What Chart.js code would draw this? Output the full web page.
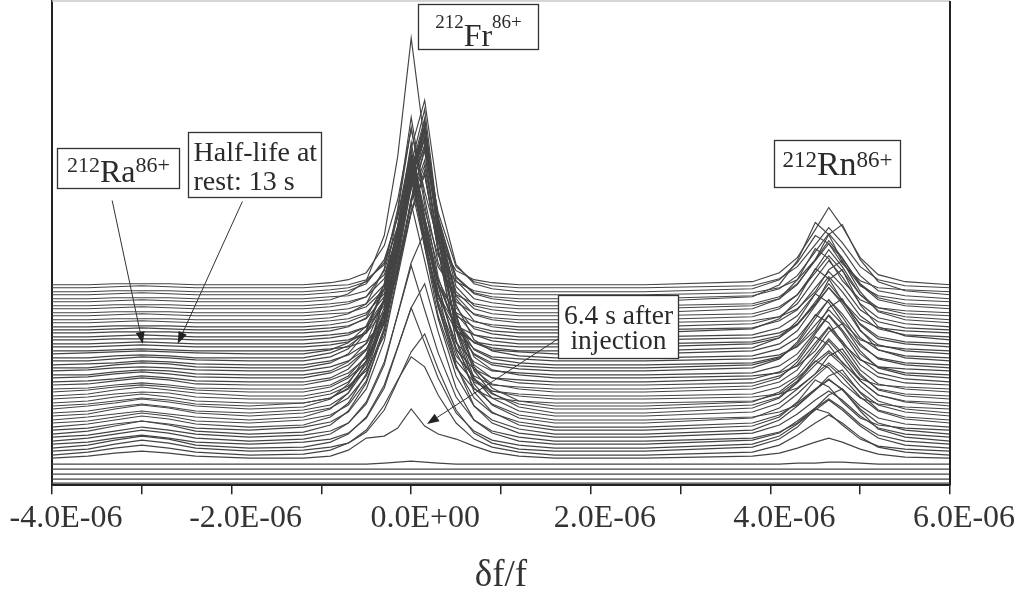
<!DOCTYPE html>
<html>
<head>
<meta charset="utf-8">
<script src="https://cdn.jsdelivr.net/npm/chart.js@4.4.1/dist/chart.umd.min.js"></script>
<style>
  html, body { margin: 0; padding: 0; background: #fff; }
  #wrap { width: 1021px; height: 598px; }
</style>
</head>
<body>
<div id="wrap"><canvas id="spec" width="1021" height="598"></canvas></div>
<script>
// ── Data: stacked Schottky spectra (row 0 = bottom, earliest) ──
// x in units of 1E-06 (δf/f), y in arbitrary units
const xGrid = [-4.0, -3.6, -3.3, -3.0, -2.7, -2.4, -1.8,
  -1.2, -0.9, -0.7, -0.5, -0.3, -0.15, 0, 0.15, 0.3, 0.5, 0.7, 0.9, 1.2, 1.6,
  2.6, 3.8, 4.1, 4.3, 4.5, 4.65, 4.8, 5.0, 5.2, 5.5, 6.0];
const tickLabels = ['-4.0E-06', '-2.0E-06', '0.0E+00', '2.0E-06', '4.0E-06', '6.0E-06'];

// vertical offset of each spectrum
const baselines = [2, 6, 11, 16, 21,
  27, 30, 34, 37, 41, 44, 48, 51, 55, 58, 62, 65, 69, 72, 76, 79, 82, 86, 89, 93,
  96, 100, 103, 107, 110, 114, 117, 120, 124, 127, 131, 134, 138, 141, 145, 148,
  152, 155, 158, 162, 165, 169, 172, 176, 179, 183, 186, 190, 193, 197, 200];

// 212Ra bump at -3.6 .. -2.4
const raRows = [
  [0,0,0,0,0],[0,0,0,0,0],[0,0,0,0,0],[0,0,0,0,0],[0,0,0,0,0],
  [2,5,7,5,2],[3,7,10,7,3],[2,7,11,8,3],[3,8,12,9,3],[2,6,9,6,2],
  [3,7,11,8,3],[2,6,10,7,3],[3,8,13,9,3],[2,6,9,6,2],[3,7,11,8,3],
  [2,6,10,7,2],[3,6,9,6,3],[2,7,11,8,3],[2,6,9,6,2],[3,6,10,7,3],
  [2,5,8,6,2],[2,6,9,6,2],[2,5,7,6,2],[2,6,9,6,3],[2,5,7,5,2],
  [1,4,6,4,1],[1,4,7,5,1],[1,3,6,4,1],[1,4,6,4,1],[0,3,5,4,1],
  [1,3,4,3,1],[0,3,5,4,1],[1,2,4,3,1],[0,2,4,3,1],[0,2,3,2,0],
  [1,2,3,2,1],[0,1,2,1,0],[0,1,2,1,0],[0,1,2,1,0],[0,1,1,1,0],
  [0,1,2,1,0],[0,1,1,1,0],[0,1,2,1,0],[0,1,1,1,0],[0,1,2,1,0],
  [0,1,1,1,0],[0,1,2,1,0],[0,1,1,1,0],[0,1,2,1,0],[0,1,1,1,0],
  [0,1,2,1,0],[0,1,1,1,0],[0,1,2,1,0],[0,1,1,1,0],[0,1,2,1,0],
  [0,1,1,1,0]
];

// 212Fr peak at -1.2 .. 1.6
const frRows = [
  [0,0,0,0,0,0,0,0,0,0,0,0,0,0],
  [0,0,0,0,0,0,0,0,0,0,0,0,0,0],
  [0,0,0,0,0,0,0,0,0,0,0,0,0,0],
  [0,0,0,0,0,0,0,0,0,0,0,0,0,0],
  [0,0,0,0,1,2,3,2,1,0,0,0,0,0],
  [0, 2, 8, 20, 22, 30, 49, 32, 24, 19, 12, 6, 2, 0],
  [1, 5, 12, 25, 50, 75, 98, 88, 60, 32, 16, 8, 3, 0],
  [1, 4, 8, 19, 41, 70, 99, 117, 82, 41, 18, 8, 2, 0],
  [1, 6, 14, 31, 63, 101, 140, 105, 70, 35, 17, 8, 3, 0],
  [2, 5, 11, 26, 56, 96, 136, 160, 112, 56, 24, 11, 3, 0],
  [2, 7, 18, 39, 79, 126, 175, 131, 88, 44, 21, 10, 4, 0],
  [2, 6, 14, 33, 72, 123, 174, 205, 144, 72, 31, 14, 4, 0],
  [2, 9, 23, 51, 104, 166, 230, 173, 115, 58, 28, 14, 5, 0],
  [3, 8, 18, 41, 89, 153, 217, 255, 179, 89, 38, 18, 5, 0],
  [2, 10, 24, 53, 108, 173, 240, 180, 120, 60, 29, 14, 5, 0],
  [3, 8, 18, 42, 92, 157, 223, 262, 183, 92, 39, 18, 5, 0],
  [3, 11, 27, 59, 122, 194, 270, 203, 135, 68, 32, 16, 5, 0],
  [3, 8, 18, 40, 88, 150, 213, 250, 175, 88, 38, 18, 5, 0],
  [3, 8, 20, 45, 98, 168, 238, 280, 196, 98, 42, 20, 6, 0],
  [2, 10, 25, 54, 110, 176, 245, 184, 123, 61, 29, 15, 5, 0],
  [3, 8, 18, 42, 91, 156, 221, 260, 182, 91, 39, 18, 5, 0],
  [0, 5, 14, 35, 81, 150, 230, 156, 87, 35, 14, 5, 2, 0],
  [0, 5, 13, 28, 63, 125, 200, 250, 150, 58, 20, 8, 3, 0],
  [0, 5, 14, 35, 82, 153, 235, 160, 89, 35, 14, 5, 2, 0],
  [0, 5, 14, 30, 68, 135, 216, 270, 162, 62, 22, 8, 3, 0],
  [0, 4, 13, 33, 77, 143, 220, 150, 84, 33, 13, 4, 2, 0],
  [0, 5, 12, 27, 62, 123, 197, 246, 148, 57, 20, 7, 2, 0],
  [0, 4, 13, 32, 74, 137, 210, 143, 80, 32, 13, 4, 2, 0],
  [0, 5, 13, 28, 65, 130, 207, 259, 155, 60, 21, 8, 3, 0],
  [0, 4, 13, 32, 75, 140, 215, 146, 82, 32, 13, 4, 2, 0],
  [0, 4, 10, 22, 50, 100, 160, 200, 120, 46, 16, 6, 2, 0],
  [0, 5, 14, 36, 84, 156, 240, 163, 91, 36, 14, 5, 2, 0],
  [0, 4, 10, 21, 48, 95, 152, 190, 114, 44, 15, 6, 2, 0],
  [0, 4, 12, 31, 72, 133, 205, 139, 78, 31, 12, 4, 2, 0],
  [0, 5, 12, 25, 58, 115, 184, 230, 138, 53, 18, 7, 2, 0],
  [0, 4, 11, 28, 65, 120, 185, 126, 70, 28, 11, 4, 2, 0],
  [0, 2, 4, 10, 30, 80, 150, 200, 100, 28, 8, 3, 0, 0],
  [0, 2, 5, 14, 44, 96, 175, 105, 49, 16, 5, 2, 0, 0],
  [0, 2, 4, 11, 32, 86, 161, 215, 108, 30, 9, 3, 0, 0],
  [0, 2, 5, 13, 40, 88, 160, 96, 45, 14, 5, 2, 0, 0],
  [0, 2, 4, 10, 31, 82, 154, 205, 103, 29, 8, 3, 0, 0],
  [0, 2, 6, 15, 48, 105, 190, 114, 53, 17, 6, 2, 0, 0],
  [0, 2, 4, 11, 33, 88, 165, 220, 110, 31, 9, 3, 0, 0],
  [0, 2, 5, 12, 38, 83, 150, 90, 42, 14, 5, 2, 0, 0],
  [0, 2, 4, 10, 29, 78, 147, 196, 98, 27, 8, 3, 0, 0],
  [0, 2, 6, 16, 51, 111, 202, 121, 57, 18, 6, 2, 0, 0],
  [0, 2, 3, 9, 26, 68, 128, 170, 85, 24, 7, 2, 0, 0],
  [0, 2, 4, 9, 28, 74, 139, 185, 93, 26, 7, 3, 0, 0],
  [0, 2, 5, 12, 38, 83, 150, 90, 42, 14, 5, 2, 0, 0],
  [0, 2, 4, 9, 27, 71, 134, 178, 89, 25, 7, 3, 0, 0],
  [0, 2, 8, 21, 66, 145, 263, 158, 74, 24, 8, 3, 0, 0],
  [0, 2, 3, 8, 24, 64, 120, 160, 80, 22, 6, 2, 0, 0],
  [0, 2, 4, 11, 35, 77, 140, 84, 39, 13, 4, 1, 0, 0],
  [0, 2, 4, 10, 29, 76, 143, 191, 96, 27, 8, 3, 0, 0],
  [0, 2, 3, 8, 23, 60, 113, 150, 75, 21, 6, 2, 0, 0],
  [0, 2, 5, 12, 39, 85, 155, 93, 43, 14, 5, 2, 0, 0]
];

// 212Rn peak at 3.8 .. 5.5
const rnRows = [
  [0,0,0,0,0,0,0,0,0],[0,0,0,0,0,0,0,0,0],[0,0,0,0,0,0,0,0,0],[0,0,0,0,0,0,0,0,0],
  [0,0,1,1,2,2,1,0,0],
  [2, 5, 10, 16, 20, 16, 9, 4, 1],
  [3, 10, 20, 32, 40, 32, 18, 8, 3],
  [4, 12, 24, 42, 38, 26, 12, 5, 2],
  [4, 12, 24, 38, 48, 38, 22, 10, 3],
  [4, 11, 23, 36, 45, 36, 20, 9, 3],
  [3, 9, 18, 33, 46, 52, 30, 12, 4],
  [4, 12, 23, 37, 46, 37, 21, 9, 3],
  [4, 14, 28, 44, 55, 44, 25, 11, 4],
  [4, 13, 28, 50, 43, 28, 12, 5, 2],
  [4, 12, 24, 38, 47, 38, 21, 9, 3],
  [5, 15, 29, 46, 58, 46, 26, 12, 4],
  [3, 8, 15, 30, 44, 50, 27, 10, 3],
  [4, 13, 27, 42, 53, 42, 24, 11, 4],
  [5, 15, 30, 48, 60, 48, 27, 12, 4],
  [4, 12, 27, 48, 41, 26, 11, 5, 2],
  [4, 14, 28, 44, 55, 44, 25, 11, 4],
  [2, 9, 22, 45, 62, 47, 22, 8, 2],
  [2, 5, 11, 25, 43, 50, 25, 9, 3],
  [2, 9, 20, 41, 57, 43, 20, 7, 2],
  [3, 10, 22, 46, 64, 48, 22, 8, 3],
  [3, 11, 27, 52, 44, 26, 10, 4, 2],
  [2, 9, 20, 42, 58, 44, 20, 8, 2],
  [3, 10, 23, 48, 66, 50, 23, 9, 3],
  [2, 5, 12, 27, 46, 54, 27, 10, 3],
  [2, 9, 21, 43, 60, 45, 21, 8, 2],
  [3, 12, 29, 56, 48, 28, 11, 4, 2],
  [3, 10, 24, 49, 68, 51, 24, 9, 3],
  [2, 8, 19, 40, 55, 41, 19, 7, 2],
  [2, 6, 14, 31, 53, 62, 31, 11, 3],
  [2, 9, 20, 42, 58, 44, 20, 8, 2],
  [3, 10, 23, 48, 66, 50, 23, 9, 3],
  [3, 13, 30, 57, 48, 29, 11, 5, 2],
  [3, 9, 22, 45, 63, 47, 22, 8, 3],
  [2, 8, 20, 40, 56, 42, 20, 7, 2],
  [2, 7, 15, 35, 60, 70, 35, 13, 4],
  [2, 9, 21, 43, 60, 45, 21, 8, 2],
  [4, 14, 33, 64, 54, 32, 13, 5, 2],
  [2, 9, 20, 42, 58, 44, 20, 8, 2],
  [3, 10, 23, 48, 66, 50, 23, 9, 3],
  [2, 6, 14, 31, 53, 62, 31, 11, 3],
  [3, 11, 25, 50, 70, 53, 25, 9, 3],
  [2, 9, 21, 43, 60, 45, 21, 8, 2],
  [4, 14, 33, 64, 54, 32, 13, 5, 2],
  [3, 10, 24, 49, 68, 51, 24, 9, 3],
  [2, 9, 22, 45, 62, 47, 22, 8, 2],
  [5, 17, 41, 79, 67, 40, 16, 6, 2],
  [3, 10, 23, 47, 65, 49, 23, 8, 3],
  [2, 7, 15, 35, 60, 70, 35, 13, 4],
  [3, 12, 29, 56, 48, 28, 11, 4, 2],
  [2, 9, 21, 43, 60, 45, 21, 8, 2],
  [3, 12, 27, 55, 77, 58, 27, 10, 3]
];

// ── Annotations (data coords) ──
const FONT = "'Liberation Serif', 'Times New Roman', serif";
const isoLabels = [
  { x0: 0.076, x1: 1.412, yTop: 480, yBot: 435, supBase: 456, mainBase: 438, supSize: 19, mainSize: 32, sym: 'Fr' },
  { x0: -3.944, x1: -2.586, yTop: 336, yBot: 296, supBase: 312, mainBase: 302, supSize: 22, mainSize: 32, sym: 'Ra' },
  { x0: 4.04, x1: 5.443, yTop: 344, yBot: 297, supBase: 317, mainBase: 309, supSize: 23, mainSize: 34, sym: 'Rn' }
];
const noteBoxes = [
  { x0: -2.486, x1: -1.004, yTop: 352, yBot: 287, align: 'left', size: 28, lines: [['Half-life at', 323], ['rest: 13 s', 294]] },
  { x0: 1.635, x1: 2.971, yTop: 190, yBot: 127, align: 'center', size: 27.5, lines: [['6.4 s after', 161], ['injection', 136]] }
];
const arrows = [
  { from: [-3.33, 284], to: [-2.99, 141] },
  { from: [-1.88, 283], to: [-2.60, 141] },
  { from: [1.635, 146], to: [0.176, 61] }
];

const traces = baselines.map((b, i) => {
  const rel = [0, ...raRows[i], 0, ...frRows[i], 0, ...rnRows[i], 0];
  return {
    data: xGrid.map((x, j) => ({ x: x, y: b + rel[j] })),
    borderColor: '#444', borderWidth: 1.15, pointRadius: 0, tension: 0, fill: false
  };
});

const framePlugin = {
  id: 'frame',
  afterDatasetsDraw(chart) {
    const { ctx, chartArea: a } = chart;
    ctx.save();
    ctx.strokeStyle = '#c8c8c8'; ctx.lineWidth = 1.5;
    ctx.beginPath(); ctx.moveTo(a.left, a.top); ctx.lineTo(a.right, a.top); ctx.stroke();
    ctx.strokeStyle = '#222'; ctx.lineWidth = 2;
    ctx.beginPath(); ctx.moveTo(a.right, a.top); ctx.lineTo(a.right, a.bottom); ctx.stroke();
    ctx.restore();
  }
};

const notesPlugin = {
  id: 'notes',
  afterDraw(chart) {
    const { ctx } = chart;
    const sx = chart.scales.x, sy = chart.scales.y;
    const px = v => sx.getPixelForValue(v), py = v => sy.getPixelForValue(v);
    ctx.save();
    const box = (b) => {
      const l = Math.round(px(b.x0)) + 0.5, r = Math.round(px(b.x1)) + 0.5;
      const t = Math.round(py(b.yTop)) + 0.5, bt = Math.round(py(b.yBot)) + 0.5;
      ctx.fillStyle = '#fff'; ctx.fillRect(l, t, r - l, bt - t);
      ctx.strokeStyle = '#333'; ctx.lineWidth = 1.3; ctx.strokeRect(l, t, r - l, bt - t);
      return { l, r, t, bt };
    };
    isoLabels.forEach(b => {
      const bb = box(b);
      const supF = b.supSize + 'px ' + FONT, mainF = b.mainSize + 'px ' + FONT;
      ctx.font = supF; const w1 = ctx.measureText('212').width, w3 = ctx.measureText('86+').width;
      ctx.font = mainF; const w2 = ctx.measureText(b.sym).width;
      let x = (bb.l + bb.r) / 2 - (w1 + w2 + w3) / 2;
      ctx.fillStyle = '#2a2a2a'; ctx.textAlign = 'left'; ctx.textBaseline = 'alphabetic';
      ctx.font = supF; ctx.fillText('212', x, py(b.supBase)); x += w1;
      ctx.font = mainF; ctx.fillText(b.sym, x, py(b.mainBase)); x += w2;
      ctx.font = supF; ctx.fillText('86+', x, py(b.supBase));
    });
    noteBoxes.forEach(b => {
      const bb = box(b);
      ctx.fillStyle = '#2a2a2a'; ctx.font = b.size + 'px ' + FONT; ctx.textBaseline = 'alphabetic';
      b.lines.forEach(([txt, y]) => {
        if (b.align === 'left') { ctx.textAlign = 'left'; ctx.fillText(txt, bb.l + 5, py(y)); }
        else { ctx.textAlign = 'center'; ctx.fillText(txt, (bb.l + bb.r) / 2, py(y)); }
      });
    });
    arrows.forEach(a => {
      const x1 = px(a.from[0]), y1 = py(a.from[1]), x2 = px(a.to[0]), y2 = py(a.to[1]);
      const ang = Math.atan2(y2 - y1, x2 - x1), len = 12, hw = 4.5;
      const bx = x2 - len * Math.cos(ang), by = y2 - len * Math.sin(ang);
      ctx.strokeStyle = '#333'; ctx.lineWidth = 1;
      ctx.beginPath(); ctx.moveTo(x1, y1); ctx.lineTo(bx, by); ctx.stroke();
      ctx.fillStyle = '#222';
      ctx.beginPath(); ctx.moveTo(x2, y2);
      ctx.lineTo(bx + hw * Math.sin(ang), by - hw * Math.cos(ang));
      ctx.lineTo(bx - hw * Math.sin(ang), by + hw * Math.cos(ang));
      ctx.closePath(); ctx.fill();
    });
    ctx.restore();
  }
};

new Chart(document.getElementById('spec'), {
  type: 'line',
  data: { datasets: traces },
  options: {
    responsive: false, animation: false, devicePixelRatio: 1,
    layout: { padding: { left: 52, right: 71, top: 1, bottom: 0 } },
    plugins: { legend: { display: false }, tooltip: { enabled: false } },
    scales: {
      x: {
        type: 'linear', min: -4, max: 6, position: 'bottom',
        border: { color: '#222', width: 2 },
        grid: { drawOnChartArea: false, drawTicks: true, tickLength: 9, color: '#222', lineWidth: 1.5 },
        ticks: {
          stepSize: 1, autoSkip: false, maxRotation: 0, labelOffset: 14, padding: 5,
          color: '#333', font: { family: FONT, size: 32 },
          callback: v => (Math.round(v) % 2 === 0 ? tickLabels[(Math.round(v) + 4) / 2] : '')
        },
        title: { display: true, text: 'δf/f', color: '#333', font: { family: FONT, size: 37 }, padding: { top: 11, bottom: 0 } },
        // let the outer labels hang into the page margin
        afterFit: s => { s.paddingLeft = 0; s.paddingRight = 0; }
      },
      y: {
        min: 0, max: 483,
        border: { color: '#222', width: 2 },
        grid: { display: false, drawTicks: false },
        ticks: { display: false },
        afterFit: s => { s.width = 0; }
      }
    }
  },
  plugins: [framePlugin, notesPlugin]
});
</script>
</body>
</html>
